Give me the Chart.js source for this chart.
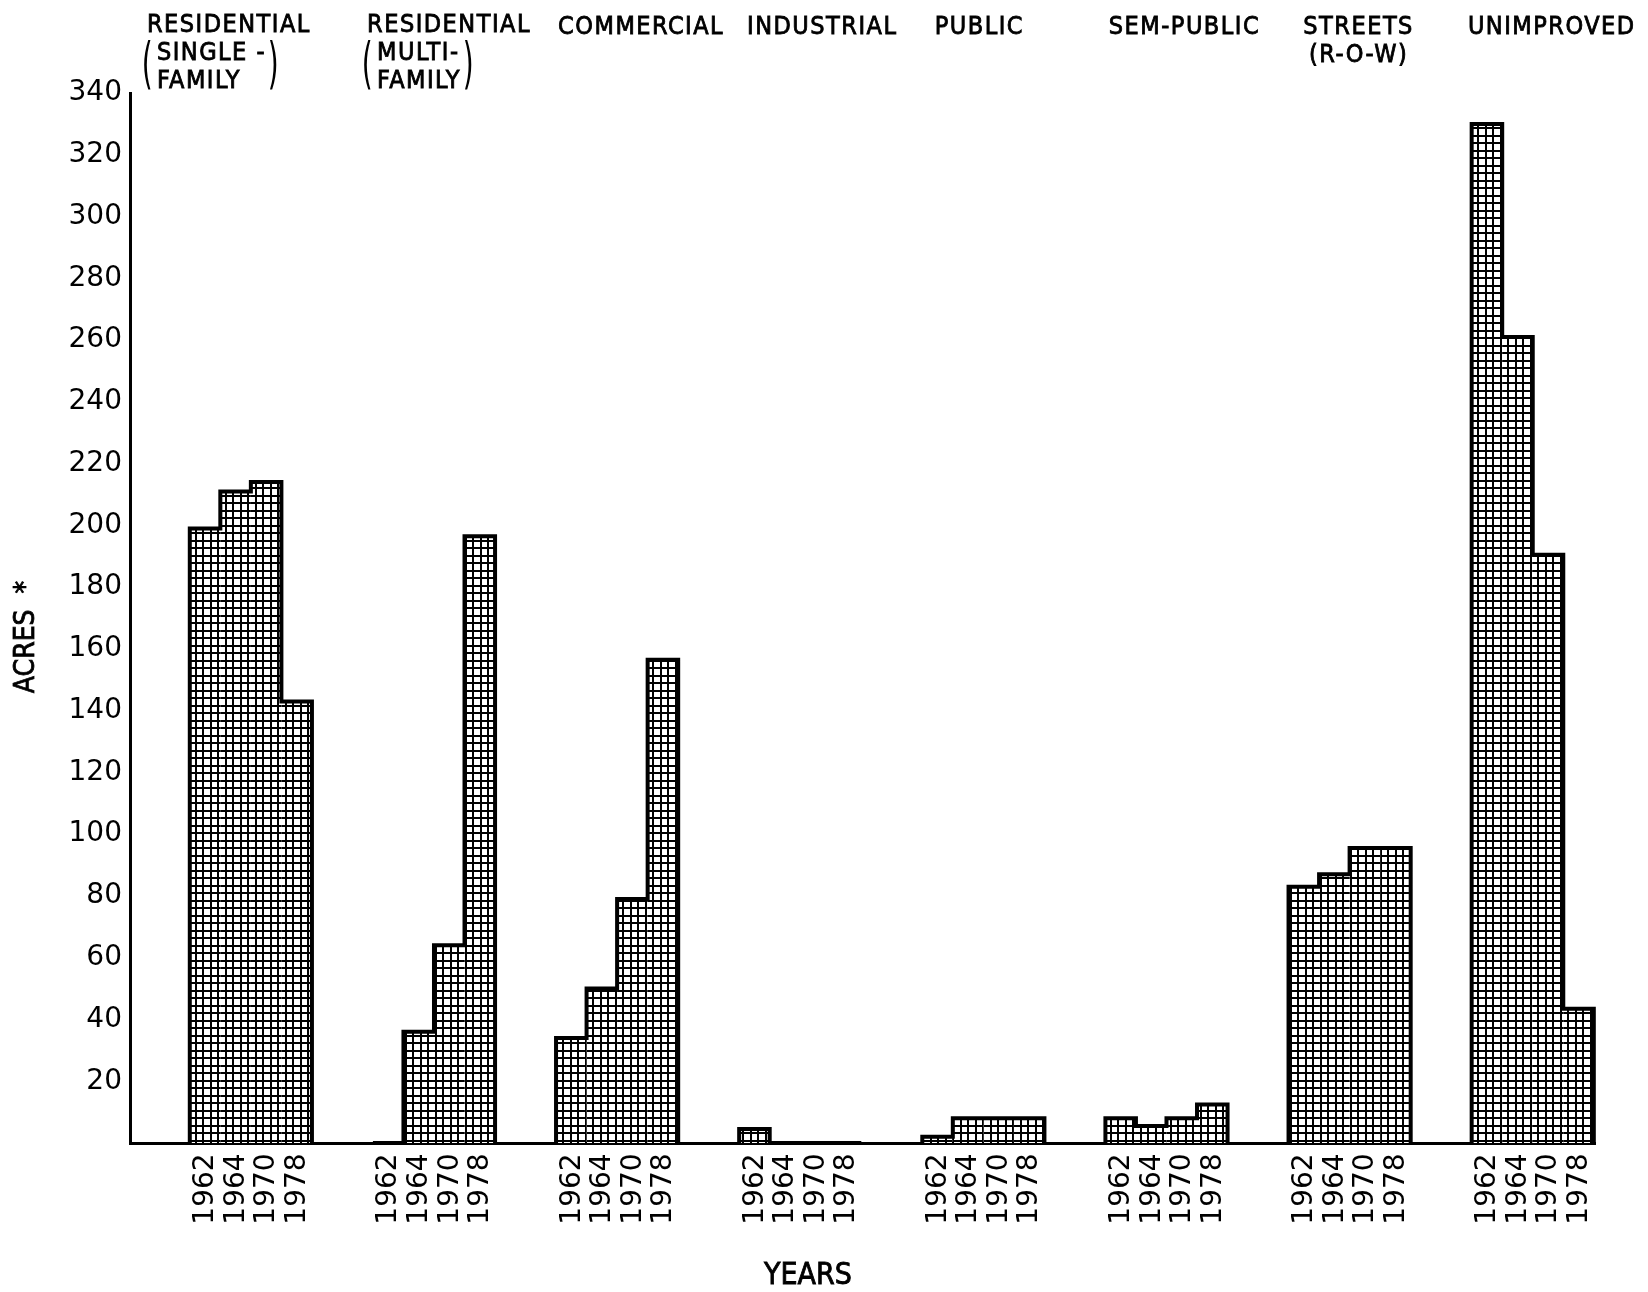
<!DOCTYPE html>
<html>
<head>
<meta charset="utf-8">
<title>Land use acreage 1962 - 1978</title>
<script src="https://cdn.jsdelivr.net/npm/chart.js@4.4.1/dist/chart.umd.min.js"></script>
<style>
  html, body { margin: 0; padding: 0; background: #fff; }
  #wrap { width: 1648px; height: 1292px; }
</style>
</head>
<body>
<div id="wrap"><canvas id="landUseChart" width="1648" height="1292"></canvas></div>
<script>

// land use groups, top to bottom lines of the heading above each group
const landUseHeadings = [
    ['RESIDENTIAL', 'SINGLE -', 'FAMILY'],
    ['RESIDENTIAL', 'MULTI-', 'FAMILY'],
    ['COMMERCIAL'],
    ['INDUSTRIAL'],
    ['PUBLIC'],
    ['SEM-PUBLIC'],
    ['STREETS', '(R-O-W)'],
    ['UNIMPROVED']
];
const years = ['1962', '1964', '1970', '1978'];

// acres per land use, one array per year
const acres1962 = [199, 0, 34, 4.5, 2, 8, 83, 330];
const acres1964 = [211, 36, 50, 0, 8, 5.5, 87, 261];
const acres1970 = [214, 64, 79, 0, 8, 8, 95.5, 190.5];
const acres1978 = [143, 196.5, 156.5, 0, 8, 12.5, 95.5, 43.5];

const yMax = 340;
const yStep = 20;

// layout bits, not data
const FONT = '"DejaVu Sans", sans-serif';
const NARROW = '"DejaVu Sans Condensed", "DejaVu Sans", sans-serif';
const headingShift = [-22, 15, 24, 22, -4, 18, 9, 19];
const bracketed = [true, true, false, false, false, false, false, false];

function makeGridPattern() {
    const tile = document.createElement('canvas');
    tile.width = 15;
    tile.height = 15;
    const c = tile.getContext('2d');
    c.fillStyle = '#fff';
    c.fillRect(0, 0, 15, 15);
    c.fillStyle = '#000';
    [0, 7].forEach(p => {
        c.fillRect(p, 0, 2, 15);
        c.fillRect(0, p, 15, 2);
    });
    return c.createPattern(tile, 'repeat');
}

const gridFill = makeGridPattern();

// fill plus a hairline stroke, the lettering in the scan is heavier
function inkText(ctx, t, x, y) {
    ctx.fillText(t, x, y);
    ctx.strokeText(t, x, y);
}

// thick stepped outline round every group of four bars
const groupOutline = {
    id: 'groupOutline',
    afterDatasetsDraw(chart) {
        const ctx = chart.ctx;
        const metas = years.map((y, k) => chart.getDatasetMeta(k));
        ctx.save();
        ctx.strokeStyle = '#000';
        ctx.lineWidth = 4;
        ctx.lineJoin = 'miter';
        landUseHeadings.forEach((h, i) => {
            ctx.beginPath();
            let r = 0, base = 0;
            metas.forEach((m, k) => {
                const b = m.data[i].getProps(['x', 'y', 'base', 'width'], true);
                const l = b.x - b.width / 2;
                r = b.x + b.width / 2;
                base = b.base;
                if (k === 0) ctx.moveTo(l, b.base);
                ctx.lineTo(l, b.y);
                ctx.lineTo(r, b.y);
            });
            ctx.lineTo(r, base);
            ctx.stroke();
        });
        ctx.restore();
    }
};

// headings above, years under each bar, axis titles
const chartTexts = {
    id: 'chartTexts',
    afterDraw(chart) {
        const ctx = chart.ctx;
        const area = chart.chartArea;
        const xs = chart.scales.x;
        ctx.save();
        ctx.fillStyle = '#000';
        ctx.strokeStyle = '#000';
        ctx.lineWidth = 0.8;

        // headings
        ctx.font = '25px ' + NARROW;
        ctx.letterSpacing = '1.5px';
        ctx.textBaseline = 'middle';
        landUseHeadings.forEach((lines, i) => {
            const cx = xs.getPixelForValue(i) + headingShift[i];
            if (!bracketed[i]) {
                ctx.textAlign = 'center';
                lines.forEach((t, n) => inkText(ctx, t, cx, 27 + n * 28));
                return;
            }
            ctx.textAlign = 'center';
            inkText(ctx, lines[0], cx, 25);
            const left = cx - ctx.measureText(lines[0]).width / 2 + 10;
            ctx.textAlign = 'left';
            let widest = 0;
            lines.slice(1).forEach((t, n) => {
                inkText(ctx, t, left, 53 + n * 28);
                widest = Math.max(widest, ctx.measureText(t).width);
            });
            // tall brackets spanning the two lower lines
            ctx.save();
            ctx.font = '28px ' + FONT;
            ctx.textAlign = 'center';
            ctx.translate(0, 67);
            ctx.scale(1, 2);
            ctx.fillText('(', left - 9, 0);
            ctx.fillText(')', left + widest + 8, 0);
            ctx.restore();
        });
        ctx.letterSpacing = '0px';

        // year labels, read bottom to top
        ctx.font = '28px ' + FONT;
        ctx.textAlign = 'center';
        ctx.textBaseline = 'middle';
        years.forEach((yr, k) => {
            chart.getDatasetMeta(k).data.forEach(bar => {
                ctx.save();
                ctx.translate(bar.x + 1, area.bottom + 46);
                ctx.rotate(-Math.PI / 2);
                ctx.fillText(yr, 0, 0);
                ctx.restore();
            });
        });

        // axis titles
        ctx.font = '30px ' + NARROW;
        inkText(ctx, 'YEARS', 808, area.bottom + 133);
        ctx.save();
        ctx.font = '28px ' + NARROW;
        ctx.translate(27, 637);
        ctx.rotate(-Math.PI / 2);
        inkText(ctx, 'ACRES  *', 0, 0);
        ctx.restore();

        ctx.restore();
    }
};

const yearSeries = [acres1962, acres1964, acres1970, acres1978];

const chartData = {
    datasets: yearSeries.map((vals, k) => ({
        label: years[k],
        data: vals.map((v, i) => ({ x: i, y: v })),
        backgroundColor: gridFill,
        borderWidth: 0,
        categoryPercentage: 0.667,
        barPercentage: 1
    }))
};

const landUseChart = new Chart(document.getElementById('landUseChart').getContext('2d'), {
    type: 'bar',
    data: chartData,
    options: {
        responsive: false,
        devicePixelRatio: 1,
        animation: false,
        layout: { padding: { top: 93, right: 53, left: 0, bottom: 0 } },
        plugins: {
            legend: { display: false },
            tooltip: { enabled: false }
        },
        scales: {
            x: {
                type: 'linear',
                offset: false,
                min: -0.66,
                max: 7.34,
                ticks: { display: false, stepSize: 1 },
                grid: { display: false, drawTicks: false, offset: false },
                border: { display: true, color: '#000', width: 3 },
                afterFit: s => { s.height = 149; }
            },
            y: {
                min: 0,
                max: yMax,
                ticks: {
                    stepSize: yStep,
                    padding: 8,
                    color: '#000',
                    font: { family: FONT, size: 28 },
                    callback: v => (v === 0 ? '' : v)
                },
                grid: { display: false, drawTicks: false },
                border: { display: true, color: '#000', width: 3 },
                afterFit: s => { s.width = 130; }
            }
        }
    },
    plugins: [groupOutline, chartTexts]
});
</script>
</body>
</html>
